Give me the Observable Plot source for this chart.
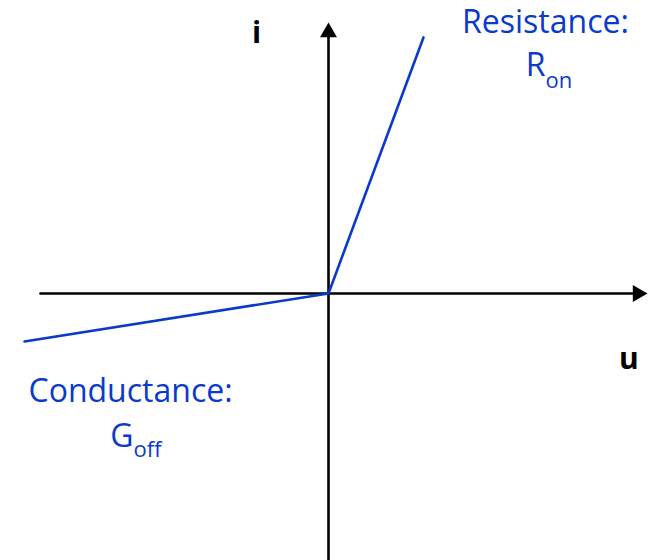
<!DOCTYPE html>
<html>
<head>
<meta charset="utf-8">
<script src="https://cdn.jsdelivr.net/npm/d3@7"></script>
<script src="https://cdn.jsdelivr.net/npm/@observablehq/plot@0.6"></script>
<style>
  html, body { margin: 0; padding: 0; background: #ffffff; }
  #chart svg { display: block; }
</style>
</head>
<body>
<div id="chart"></div>
<script>
// Scale domains (u: voltage, i: current)
const uDomain = [-3.453, 3.411];
const iDomain = [-2.811, 3.084];

// Characteristic curve (piecewise linear through origin)
const curveU = [-3.2, 0, 1.0];
const curveI = [-0.505, 0, 2.695];

// Axis extents
const uAxisU = [-3.032, 3.255];
const iAxisI = [-2.811, 2.749];

// Arrowhead positions
const arrowU = [3.255, 0];
const arrowI = [0, 2.749];
const arrowRotate = [90, 0];

// Main labels
const labelText = ["Resistance:", "Conductance:"];
const labelU = [2.284, -2.084];
const labelI = [2.737, -1.147];

// Symbol base + subscript labels
const symText = ["R", "G"];
const subText = ["on", "off"];
const symU = [2.284, -2.053];
const symI = [2.284, -1.611];
const subI = [2.168, -1.726];

// Axis names
const axisNames = ["i", "u"];
const axisNameU = [-0.758, 3.163];
const axisNameI = [2.632, -0.8];

const blue = "#0a3acc";
const font = "'Open Sans', sans-serif";
const idx = (a) => a.map((_, k) => k);

const chart = Plot.plot({
  width: 652,
  height: 560,
  margin: 0,
  style: { background: "#ffffff", overflow: "visible" },
  x: { domain: uDomain, axis: null },
  y: { domain: iDomain, axis: null },
  marks: [
    // horizontal axis
    Plot.line(idx(uAxisU), { x: k => uAxisU[k], y: () => 0, stroke: "#000", strokeWidth: 2.6 }),
    // vertical axis
    Plot.line(idx(iAxisI), { x: () => 0, y: k => iAxisI[k], stroke: "#000", strokeWidth: 2.6 }),
    // arrowheads
    Plot.dot(idx(arrowU), {
      x: k => arrowU[k], y: k => arrowI[k], rotate: k => arrowRotate[k],
      symbol: "triangle", r: 6.3, fill: "#000", stroke: "none"
    }),
    // characteristic
    Plot.line(idx(curveU), { x: k => curveU[k], y: k => curveI[k], stroke: blue, strokeWidth: 2.6, strokeLinejoin: "round" }),
    // labels
    Plot.text(idx(labelText), {
      x: k => labelU[k], y: k => labelI[k], text: k => labelText[k],
      fill: blue, fontSize: 32, fontFamily: font, textAnchor: "middle", lineAnchor: "bottom"
    }),
    Plot.text(idx(symText), {
      x: k => symU[k], y: k => symI[k], text: k => symText[k],
      fill: blue, fontSize: 32, fontFamily: font, textAnchor: "end", lineAnchor: "bottom"
    }),
    Plot.text(idx(subText), {
      x: k => symU[k], y: k => subI[k], text: k => subText[k],
      fill: blue, fontSize: 22, fontFamily: font, textAnchor: "start", lineAnchor: "bottom"
    }),
    Plot.text(idx(axisNames), {
      x: k => axisNameU[k], y: k => axisNameI[k], text: k => axisNames[k],
      fill: "#000", fontSize: 30, fontWeight: "bold", fontFamily: font, textAnchor: "middle", lineAnchor: "bottom"
    })
  ]
});
document.getElementById("chart").appendChild(chart);
</script>
</body>
</html>
